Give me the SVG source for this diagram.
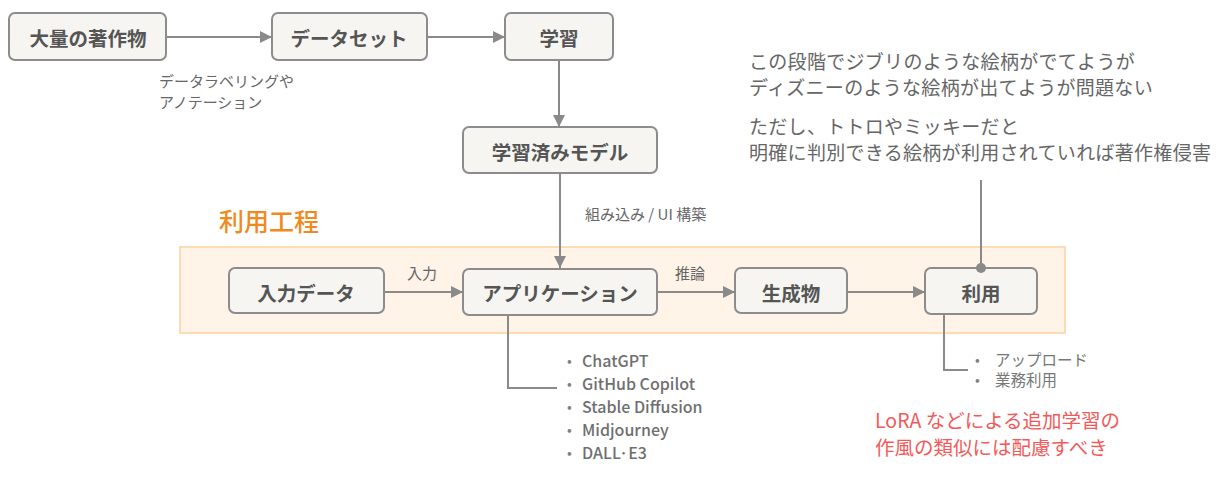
<svg xmlns="http://www.w3.org/2000/svg" width="1231" height="494" viewBox="0 0 1231 494">
<defs>
<marker id="arr" viewBox="0 0 12 12" refX="12" refY="6" markerWidth="12" markerHeight="12" markerUnits="userSpaceOnUse" orient="auto">
<path d="M0,0 L12,6 L0,12 Z" fill="#8a8a8a"/>
</marker>
<marker id="dot" viewBox="0 0 10 10" refX="5" refY="5" markerWidth="10" markerHeight="10" markerUnits="userSpaceOnUse">
<circle cx="5" cy="5" r="5" fill="#8a8a8a"/>
</marker>
<style>
text{font-family:"Noto Sans CJK JP","Noto Sans",sans-serif;dominant-baseline:central}
.box{fill:#f6f5f1;stroke:#8c8c8c;stroke-width:2}
.bt{font-size:19.5px;font-weight:bold;fill:#555;text-anchor:middle}
.lbl{font-size:15px;fill:#666}
.ln{fill:none;stroke:#8a8a8a;stroke-width:2}
.note{font-size:19px;fill:#666;letter-spacing:0.3px}
.li{font-size:16px;font-weight:500;fill:#6f6f6f}
.bul{font-size:14px;fill:#808080}
.li2{font-size:15.5px;fill:#777}
.red{font-size:19.5px;fill:#f25a5a}
</style>
</defs>
<rect x="180" y="247" width="885" height="86" fill="#fff4e7" stroke="#fddbb4" stroke-width="2"/>
<text x="219" y="220" style="font-size:25px;fill:#f08a1e;font-weight:500">利用工程</text>
<g id="n1"><rect class="box" x="9" y="13" width="157" height="47" rx="6"/><text class="bt" x="88" y="37">大量の著作物</text></g>
<g id="n2"><rect class="box" x="272" y="13" width="155" height="47" rx="6"/><text class="bt" x="349" y="37">データセット</text></g>
<g id="n3"><rect class="box" x="505" y="13" width="108" height="47" rx="6"/><text class="bt" x="559" y="37">学習</text></g>
<g id="n4"><rect class="box" x="463" y="127" width="194" height="46" rx="6"/><text class="bt" x="560" y="151">学習済みモデル</text></g>
<g id="n5"><rect class="box" x="229" y="268" width="155" height="45" rx="6"/><text class="bt" x="306" y="292">入力データ</text></g>
<g id="n6"><rect class="box" x="463" y="269" width="194" height="46" rx="6"/><text class="bt" x="560" y="292">アプリケーション</text></g>
<g id="n7"><rect class="box" x="735" y="268" width="112" height="45" rx="6"/><text class="bt" x="791" y="292">生成物</text></g>
<g id="n8"><rect class="box" x="925" y="268" width="112" height="46" rx="6"/><text class="bt" x="981" y="292">利用</text></g>
<g id="connectors">
<line class="ln" x1="167" y1="37" x2="272" y2="37" marker-end="url(#arr)"/>
<line class="ln" x1="427" y1="37" x2="505" y2="37" marker-end="url(#arr)"/>
<line class="ln" x1="559" y1="61" x2="559" y2="127" marker-end="url(#arr)"/>
<line class="ln" x1="560" y1="174" x2="560" y2="268" marker-end="url(#arr)"/>
<line class="ln" x1="385" y1="292" x2="463" y2="292" marker-end="url(#arr)"/>
<line class="ln" x1="658" y1="292" x2="735" y2="292" marker-end="url(#arr)"/>
<line class="ln" x1="848" y1="292" x2="925" y2="292" marker-end="url(#arr)"/>
<line class="ln" x1="981" y1="180" x2="981" y2="268" marker-end="url(#dot)"/>
<polyline class="ln" points="508,316 508,388 557,388"/>
<polyline class="ln" points="944,315 944,370 968,370"/>
</g>
<g id="labels">
<text class="lbl" x="159" y="80">データラベリングや</text>
<text class="lbl" x="159" y="101">アノテーション</text>
<text class="lbl" x="585" y="213">組み込み / UI 構築</text>
<text class="lbl" x="407" y="272">入力</text>
<text class="lbl" x="675" y="272">推論</text>
</g>
<g id="note">
<text class="note" x="749" y="60">この段階でジブリのような絵柄がでてようが</text>
<text class="note" x="749" y="86">ディズニーのような絵柄が出てようが問題ない</text>
<text class="note" x="749" y="125">ただし、トトロやミッキーだと</text>
<text class="note" x="749" y="151">明確に判別できる絵柄が利用されていれば著作権侵害</text>
</g>
<g id="apps">
<text class="bul" x="567" y="360">•</text><text class="li" x="582" y="360">ChatGPT</text>
<text class="bul" x="567" y="383">•</text><text class="li" x="582" y="383">GitHub Copilot</text>
<text class="bul" x="567" y="406">•</text><text class="li" x="582" y="406">Stable Diffusion</text>
<text class="bul" x="567" y="429">•</text><text class="li" x="582" y="429">Midjourney</text>
<text class="bul" x="567" y="452">•</text><text class="li" x="582" y="452">DALL·E3</text>
</g>
<g id="uses">
<text class="bul" x="975" y="359">•</text><text class="li2" x="995" y="359">アップロード</text>
<text class="bul" x="975" y="379">•</text><text class="li2" x="995" y="379">業務利用</text>
</g>
<g id="warn">
<text class="red" x="875" y="419">LoRA などによる追加学習の</text>
<text class="red" x="875" y="446">作風の類似には配慮すべき</text>
</g>
</svg>
